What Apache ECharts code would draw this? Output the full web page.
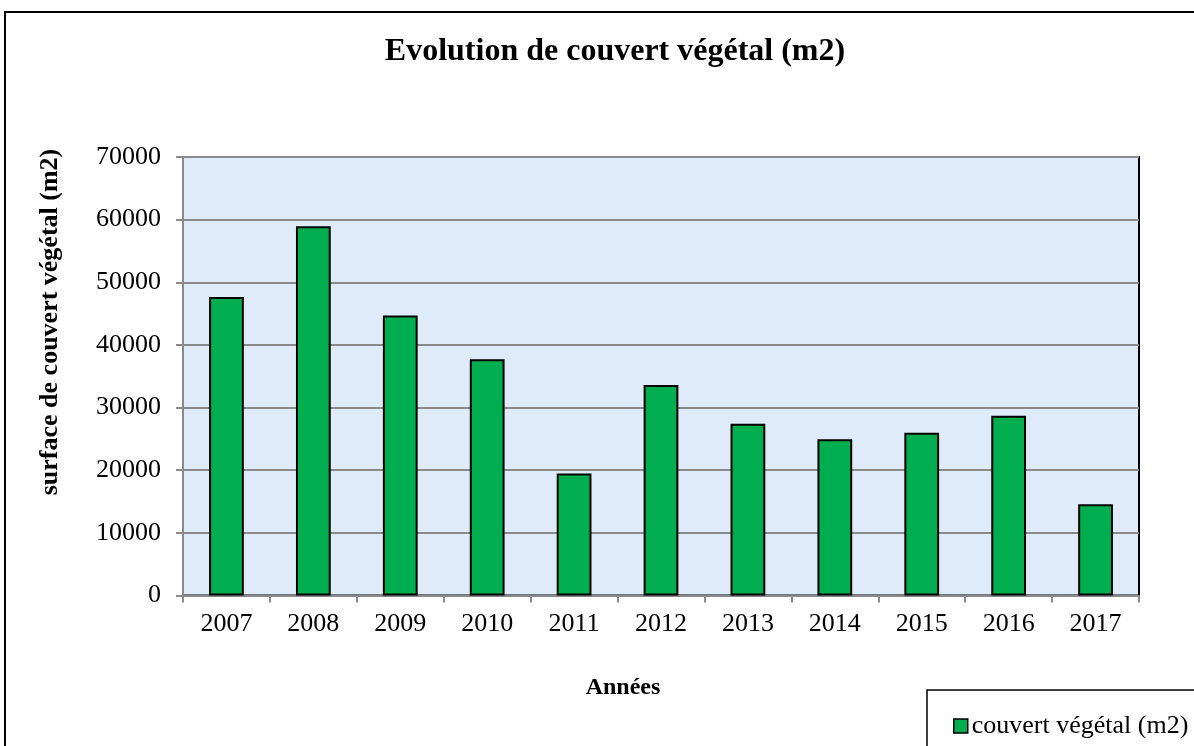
<!DOCTYPE html>
<html>
<head>
<meta charset="utf-8">
<script src="https://cdn.jsdelivr.net/npm/echarts@6/dist/echarts.min.js"></script>
<style>html,body{margin:0;padding:0;background:#fff}#c{width:1194px;height:746px}</style>
</head>
<body>
<div id="c"></div>
<script>
var categories = ['2007','2008','2009','2010','2011','2012','2013','2014','2015','2016','2017'];
var values = [47650, 58930, 44690, 37720, 19490, 33620, 27400, 24960, 25970, 28680, 14550];
var seriesName = 'couvert végétal (m2)';
var titleText = 'Evolution de couvert végétal (m2)';
var yAxisName = 'surface de couvert végétal (m2)';
var xAxisName = 'Années';

var FONT = '"Liberation Serif", "Times New Roman", serif';
var chart = echarts.init(document.getElementById('c'));
chart.setOption({
  backgroundColor: '#ffffff',
  animation: false,
  title: {
    text: titleText, left: 610, top: 31, textAlign: 'center',
    textStyle: {fontFamily: FONT, fontSize: 32, fontWeight: 'bold', color: '#000'}
  },
  legend: {
    left: 948, top: 708, icon: 'rect', itemWidth: 14, itemHeight: 14, itemGap: 10,
    data: [seriesName],
    itemStyle: {borderColor: '#000', borderWidth: 1.5},
    textStyle: {fontFamily: FONT, fontSize: 26, color: '#000', padding: [0,0,0,-1]}
  },
  grid: {
    left: 183, right: 55, top: 157, bottom: 150.5,
    show: true, backgroundColor: '#dfebf8', borderColor: '#000', borderWidth: 2
  },
  xAxis: {
    type: 'category', data: categories,
    axisLine: {lineStyle: {color: '#8a8a8a', width: 2}},
    axisTick: {show: true, length: 7, lineStyle: {color: '#8a8a8a', width: 2}},
    axisLabel: {fontFamily: FONT, fontSize: 26, color: '#000', margin: 16}
  },
  yAxis: {
    type: 'value', min: 0, max: 70000, interval: 10000,
    axisLine: {show: true, lineStyle: {color: '#8a8a8a', width: 2}},
    axisTick: {show: true, length: 7, lineStyle: {color: '#8a8a8a', width: 2}},
    axisLabel: {fontFamily: FONT, fontSize: 26, color: '#000', margin: 22,
      formatter: function (v) { return String(v); }},
    splitLine: {show: true, lineStyle: {color: '#8a8a8a', width: 2}}
  },
  series: [{
    name: seriesName, type: 'bar', data: values, barWidth: '40%',
    itemStyle: {color: '#00ae4f', borderColor: '#000', borderWidth: 2}
  }],
  graphic: [
    {type: 'rect', z: 100, silent: true, shape: {x: 5, y: 12, width: 1200, height: 800},
     style: {fill: 'none', stroke: '#000', lineWidth: 2}},
    {type: 'rect', z: 100, silent: true, shape: {x: 927, y: 690, width: 300, height: 100},
     style: {fill: 'none', stroke: '#000', lineWidth: 1.5}},
    {type: 'text', z: 100, x: 50, y: 322, rotation: Math.PI / 2,
     style: {text: yAxisName, font: 'bold 26px ' + FONT, fill: '#000', textAlign: 'center', textVerticalAlign: 'middle'}},
    {type: 'text', z: 100, x: 623, y: 688,
     style: {text: xAxisName, font: 'bold 24px ' + FONT, fill: '#000', textAlign: 'center', textVerticalAlign: 'middle'}}
  ]
});
</script>
</body>
</html>
